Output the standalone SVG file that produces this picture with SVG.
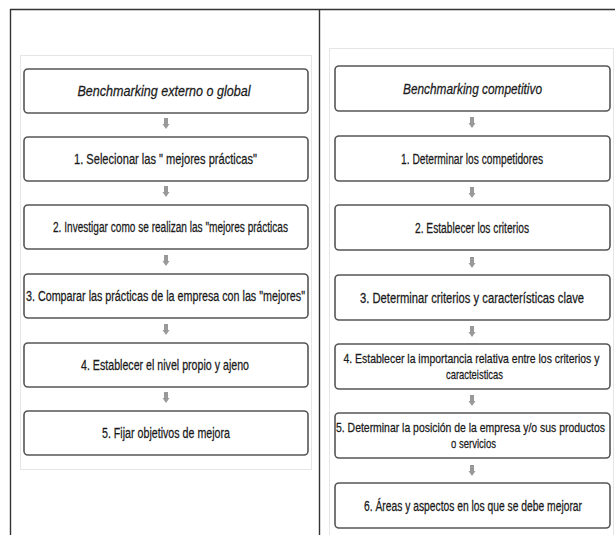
<svg xmlns="http://www.w3.org/2000/svg" width="615" height="535" viewBox="0 0 615 535">
<style>
.frame{stroke:#333;stroke-width:1.4;fill:none}
.panel{stroke:#e6e6e6;stroke-width:1;fill:#fff}
.box{fill:#fff;stroke:#555;stroke-width:1.6}
.t{font-family:"Liberation Sans",Arial,sans-serif;font-size:14.5px;fill:#1a1a1a;stroke:#1a1a1a;stroke-width:0.25;text-anchor:middle}
.t2{font-size:13.5px}
.it{font-style:italic}
.arr{fill:#999}
</style>
<defs>
<polygon id="dn" points="-2,0 2,0 2,6 3.5,6 0,11 -3.5,6 -2,6"/>
</defs>
<rect width="615" height="535" fill="#fff"/>
<g id="frame">
<line class="frame" x1="10" y1="9.5" x2="615" y2="9.5"/>
<line class="frame" x1="10.5" y1="9" x2="10.5" y2="535"/>
<line class="frame" x1="319.5" y1="9" x2="319.5" y2="535"/>
</g>
<rect class="panel" x="20.5" y="55.5" width="291" height="414"/>
<rect class="panel" x="329.5" y="48.5" width="284" height="500"/>
<g id="connectors" class="arr">
<use href="#dn" x="166" y="118"/>
<use href="#dn" x="166" y="186"/>
<use href="#dn" x="166" y="255"/>
<use href="#dn" x="166" y="324"/>
<use href="#dn" x="166" y="392"/>
<use href="#dn" x="472" y="117"/>
<use href="#dn" x="472" y="187"/>
<use href="#dn" x="472" y="257"/>
<use href="#dn" x="472" y="326"/>
<use href="#dn" x="472" y="395"/>
<use href="#dn" x="472" y="465"/>
</g>
<g id="L0"><rect class="box" x="24" y="69" width="284" height="44" rx="4"/><text class="t it" transform="translate(164 96) scale(0.75 1)" textLength="230.7" lengthAdjust="spacingAndGlyphs">Benchmarking externo o global</text></g>
<g id="L1"><rect class="box" x="24" y="137" width="284" height="44" rx="4"/><text class="t" transform="translate(165.5 164) scale(0.75 1)" textLength="244" lengthAdjust="spacingAndGlyphs">1. Selecionar las " mejores prácticas"</text></g>
<g id="L2"><rect class="box" x="24" y="205" width="284" height="44" rx="4"/><text class="t" transform="translate(170.5 232) scale(0.75 1)" textLength="313.3" lengthAdjust="spacingAndGlyphs">2. Investigar como se realizan las "mejores prácticas</text></g>
<g id="L3"><rect class="box" x="24" y="274" width="284" height="44" rx="4"/><text class="t" transform="translate(165.5 301) scale(0.75 1)" textLength="372" lengthAdjust="spacingAndGlyphs">3. Comparar las prácticas de la empresa con las "mejores"</text></g>
<g id="L4"><rect class="box" x="24" y="343" width="284" height="44" rx="4"/><text class="t" transform="translate(165 370) scale(0.75 1)" textLength="224" lengthAdjust="spacingAndGlyphs">4. Establecer el nivel propio y ajeno</text></g>
<g id="L5"><rect class="box" x="24" y="411" width="284" height="44" rx="4"/><text class="t" transform="translate(166 438) scale(0.75 1)" textLength="170.7" lengthAdjust="spacingAndGlyphs">5. Fijar objetivos de mejora</text></g>
<g id="R0"><rect class="box" x="335" y="66" width="275" height="45" rx="4"/><text class="t it" transform="translate(472.5 94) scale(0.75 1)" textLength="185.3" lengthAdjust="spacingAndGlyphs">Benchmarking competitivo</text></g>
<g id="R1"><rect class="box" x="335" y="136" width="275" height="45" rx="4"/><text class="t" transform="translate(472 164) scale(0.75 1)" textLength="189.3" lengthAdjust="spacingAndGlyphs">1. Determinar los competidores</text></g>
<g id="R2"><rect class="box" x="335" y="205" width="275" height="45" rx="4"/><text class="t" transform="translate(472 233) scale(0.75 1)" textLength="152" lengthAdjust="spacingAndGlyphs">2. Establecer los criterios</text></g>
<g id="R3"><rect class="box" x="335" y="275" width="275" height="45" rx="4"/><text class="t" transform="translate(472 303) scale(0.75 1)" textLength="298.7" lengthAdjust="spacingAndGlyphs">3. Determinar criterios y características clave</text></g>
<g id="R4"><rect class="box" x="335" y="344" width="275" height="45" rx="4"/><text class="t t2" transform="translate(472 363) scale(0.75 1)"><tspan x="-0.7" y="0" textLength="341.3" lengthAdjust="spacingAndGlyphs">4. Establecer la importancia relativa entre los criterios y</tspan><tspan x="3.3" y="16" textLength="76" lengthAdjust="spacingAndGlyphs">caracteisticas</tspan></text></g>
<g id="R5"><rect class="box" x="335" y="413" width="275" height="45" rx="4"/><text class="t t2" transform="translate(472 432) scale(0.75 1)"><tspan x="-2" y="0" textLength="358.7" lengthAdjust="spacingAndGlyphs">5. Determinar la posición de la empresa y/o sus productos</tspan><tspan x="2" y="16" textLength="60" lengthAdjust="spacingAndGlyphs">o servicios</tspan></text></g>
<g id="R6"><rect class="box" x="335" y="483" width="275" height="45" rx="4"/><text class="t" transform="translate(473 511) scale(0.75 1)" textLength="290.7" lengthAdjust="spacingAndGlyphs">6. Áreas y aspectos en los que se debe mejorar</text></g>
</svg>
